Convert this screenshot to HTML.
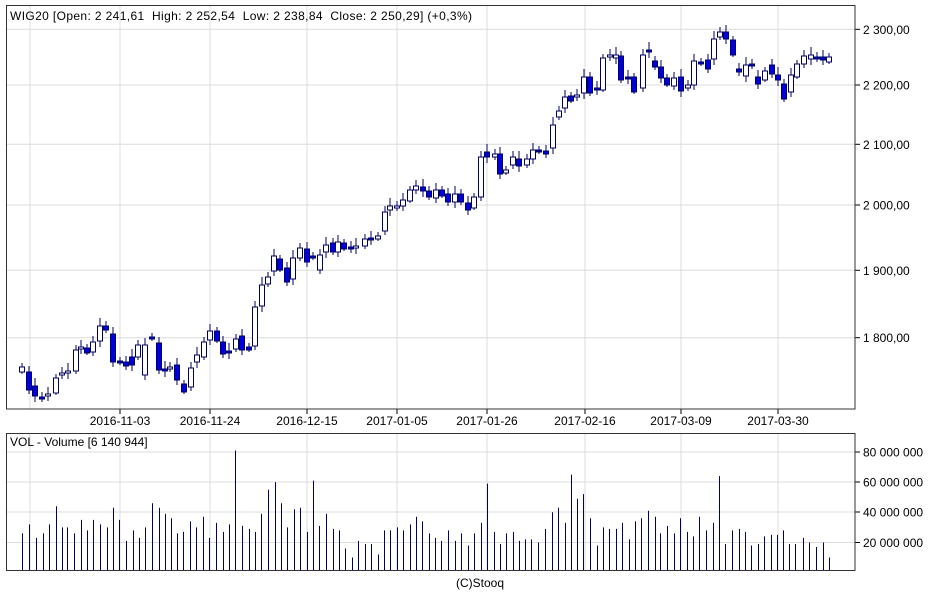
<!DOCTYPE html><html><head><meta charset="utf-8"><style>
body{margin:0;background:#fff;}
svg{display:block;font-family:"Liberation Sans",Arial,sans-serif;}
</style></head><body>
<svg id="s" width="948" height="593" xmlns="http://www.w3.org/2000/svg"></svg>
<script>
const S=document.getElementById('s');let h='';
const gx=[30,120,210,307,397,487,585,681,778];
const py=[[29.3,'2 300,00'],[85,'2 200,00'],[144.3,'2 100,00'],[205,'2 000,00'],[270.3,'1 900,00'],[337.7,'1 800,00']];
gx.forEach(x=>{h+=`<line x1="${x}" y1="6" x2="${x}" y2="409" stroke="#dcdcdc"/>`;h+=`<line x1="${x}" y1="433" x2="${x}" y2="571" stroke="#dcdcdc"/>`;});
py.forEach(p=>{h+=`<line x1="6" y1="${p[0]}" x2="855" y2="${p[0]}" stroke="#dcdcdc"/><line x1="855" y1="${p[0]}" x2="860" y2="${p[0]}" stroke="#000"/><text x="863" y="${p[0]+4.5}" font-size="12">${p[1]}</text>`;});
const dl=['2016-11-03','2016-11-24','2016-12-15','2017-01-05','2017-01-26','2017-02-16','2017-03-09','2017-03-30'];
dl.forEach((d,i)=>{const x=gx[i+1];h+=`<line x1="${x}" y1="409" x2="${x}" y2="414" stroke="#000"/><text x="${x}" y="425" font-size="12" text-anchor="middle">${d}</text>`;});
[[452,'80 000 000'],[482,'60 000 000'],[512,'40 000 000'],[542.5,'20 000 000']].forEach(p=>{h+=`<line x1="6" y1="${p[0]}" x2="855" y2="${p[0]}" stroke="#dcdcdc"/><line x1="855" y1="${p[0]}" x2="860" y2="${p[0]}" stroke="#000"/><text x="863" y="${p[0]+4.5}" font-size="12">${p[1]}</text>`;});
const C=[[22,367,372,0],[29,372,390,1],[35,386,396,1],[42,397,399,1],[48,394,396,0],[56,378,393,0],[62,373,375,0],[68,371,373,0],[76,350,371,0],[81,347,349,0],[87,348,353,1],[93,342,352,0],[100,326,341,0],[106,326,330,1],[113,334,362,1],[120,361,363,1],[126,362,366,1],[132,357,365,1],[138,345,357,0],[145,345,375,0],[152,337,339,1],[159,343,370,1],[165,369,371,1],[170,367,369,0],[177,365,380,1],[184,384,392,1],[191,368,387,0],[197,355,362,0],[204,342,357,0],[210,331,340,0],[217,331,341,1],[223,342,354,1],[229,351,353,1],[236,339,349,0],[242,336,350,1],[249,347,350,1],[255,307,346,0],[262,285,306,0],[268,277,284,0],[274,256,271,0],[280,259,270,1],[287,268,282,1],[293,258,279,0],[300,248,258,0],[307,249,262,1],[313,256,258,1],[320,255,270,0],[326,245,252,0],[333,243,252,1],[338,242,252,0],[344,243,249,1],[351,247,249,1],[356,246,248,0],[365,239,246,0],[371,238,240,1],[378,236,239,0],[385,212,231,0],[390,206,210,0],[397,206,208,0],[403,200,206,0],[410,190,201,0],[416,186,190,0],[423,187,191,1],[429,191,197,1],[436,190,198,0],[442,190,196,1],[448,194,202,1],[455,194,202,0],[461,194,202,1],[468,203,210,1],[474,197,208,0],[481,157,197,0],[487,152,157,1],[495,154,157,0],[500,154,174,1],[506,170,173,0],[513,157,165,0],[519,159,166,1],[527,159,165,0],[533,150,159,0],[539,150,152,1],[546,151,154,1],[553,125,148,0],[559,111,117,0],[565,97,108,0],[571,96,101,1],[577,95,97,0],[584,77,93,0],[590,77,93,1],[597,88,90,1],[603,58,90,0],[610,55,57,0],[616,55,58,0],[621,56,80,1],[628,77,79,1],[634,77,92,1],[643,55,88,0],[649,50,52,1],[655,61,67,1],[661,67,78,1],[667,78,85,1],[674,78,86,0],[681,77,91,1],[688,85,88,0],[694,61,85,0],[701,62,64,1],[708,60,69,1],[714,39,59,0],[720,32,37,0],[726,32,39,1],[733,40,55,1],[739,69,72,1],[746,65,76,0],[752,64,66,1],[758,77,84,1],[765,71,80,0],[772,65,74,1],[778,75,80,1],[784,84,99,1],[791,75,92,0],[797,64,77,0],[804,56,64,0],[811,55,59,0],[817,57,59,1],[823,57,60,1],[829,57,62,0]];
C.forEach((c,i)=>{const w=4+((i*7)%5);h+=`<line x1="${c[0]}" y1="${c[1]-w}" x2="${c[0]}" y2="${c[2]+w-2}" stroke="#000060"/>`;h+=`<rect x="${c[0]-2.5}" y="${c[1]}" width="5" height="${Math.max(1,c[2]-c[1])}" fill="${c[3]?'#0000dd':'#fff'}" stroke="#000060"/>`;});
const V=[[37,26],[49,32],[60,23],[71,26],[81,32],[93,44],[103,30],[112,30],[123,26],[134,35],[145,28],[155,35],[166,32],[177,30],[188,43],[198,35],[209,21],[220,28],[230,23],[241,30],[252,46],[263,43],[273,39],[283,36],[294,26],[304,27],[315,34],[325,30],[336,37],[347,23],[358,33],[369,27],[379,32],[390,81],[401,31],[412,29],[422,27],[433,39],[444,55],[455,60],[465,46],[476,30],[487,42],[497,43],[508,27],[518,61],[529,31],[540,39],[551,29],[561,28],[572,16],[583,10],[593,21],[604,19],[614,19],[626,12],[636,28],[646,28],[657,30],[667,28],[679,32],[689,37],[699,34],[710,26],[721,23],[731,21],[742,28],[753,21],[764,26],[775,18],[785,26],[796,33],[807,59],[818,27],[828,19],[838,26],[849,27],[859,21],[870,22],[880,22],[891,20],[903,29],[914,40],[924,43],[935,33],[945,65],[955,49],[966,52],[977,36],[988,18],[998,30],[1009,29],[1020,29],[1030,33],[1041,22],[1051,34],[1062,36],[1073,41],[1084,37],[1093,26],[1104,31],[1116,26],[1126,36],[1137,27],[1147,24],[1158,37],[1169,28],[1181,33],[1191,64],[1200,19],[1212,28],[1223,29],[1234,27],[1244,18],[1255,19],[1265,24],[1276,25],[1287,25],[1296,28],[1307,19],[1317,19],[1330,23],[1340,20],[1351,17],[1362,20],[1373,10]];
V.forEach(v=>{const x=Math.round(22+(v[0]-37)/1.655)+0.5;h+=`<line x1="${x}" y1="${572.6-1.508*v[1]}" x2="${x}" y2="570" stroke="#000060"/>`;});
h+=`<rect x="6.5" y="5.5" width="848.5" height="403.5" fill="none" stroke="#333"/>`;
h+=`<rect x="6.5" y="433.5" width="848.5" height="137" fill="none" stroke="#333"/>`;
h+=`<text x="10" y="20" font-size="12" style="white-space:pre" textLength="462">WIG20 [Open: 2 241,61  High: 2 252,54  Low: 2 238,84  Close: 2 250,29] (+0,3%)</text>`;
h+=`<text x="10" y="446" font-size="12">VOL - Volume [6 140 944]</text>`;
h+=`<text x="480" y="587" font-size="12" text-anchor="middle">(C)Stooq</text>`;
S.innerHTML=h;
</script></body></html>
